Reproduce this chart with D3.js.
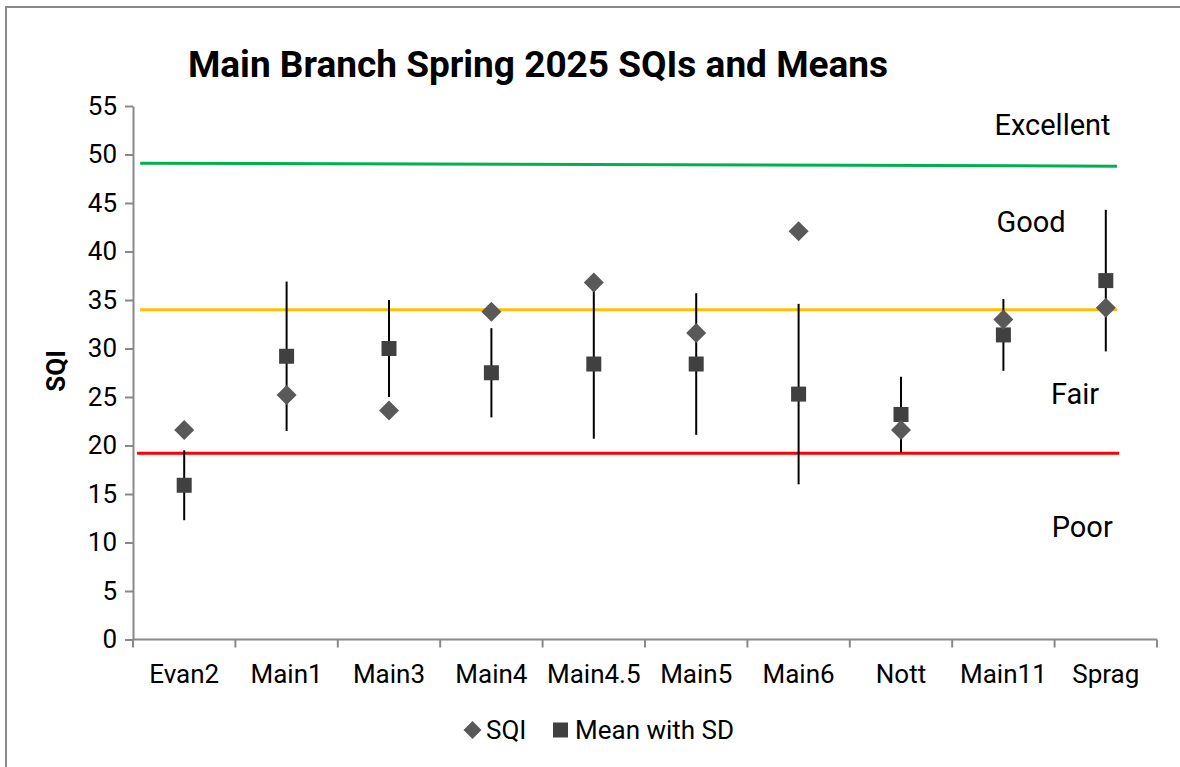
<!DOCTYPE html>
<html>
<head>
<meta charset="utf-8">
<script src="https://cdn.jsdelivr.net/npm/d3@7"></script>
<style>
  html, body { margin: 0; padding: 0; background: #fff; overflow: hidden; }
  svg { display: block; font-family: Roboto, "Liberation Sans", Arial, sans-serif; }
</style>
</head>
<body>
<svg id="chart" width="1180" height="767"></svg>
<script>
// ---------- data ----------
const categories = ["Evan2", "Main1", "Main3", "Main4", "Main4.5", "Main5", "Main6", "Nott", "Main11", "Sprag"];
const sqiValues  = [21.6, 25.2, 23.6, 33.8, 36.8, 31.6, 42.1, 21.6, 33.0, 34.2];
const meanValues = [15.9, 29.2, 30.0, 27.5, 28.4, 28.4, 25.3, 23.2, 31.4, 37.0];
const sdValues   = [3.6, 7.7, 5.0, 4.6, 7.7, 7.3, 9.3, 3.9, 3.7, 7.3];
const yTicks = [0, 5, 10, 15, 20, 25, 30, 35, 40, 45, 50, 55];
// threshold lines (x in category-index units, y in SQI units)
const thresholdNames = ["Excellent", "Fair", "Poor"];
const thresholdX0 = [0.07, 0.07, 0.04];
const thresholdX1 = [9.61, 9.61, 9.63];
const thresholdY0 = [49.1, 34.0, 19.2];
const thresholdY1 = [48.8, 34.0, 19.2];
const thresholdColors = ["#00B050", "#FFC000", "#FF0000"];
// rating labels
const ratingLabels = ["Excellent", "Good", "Fair", "Poor"];
const ratingX = [8.98, 8.77, 9.2, 9.27];
const ratingY = [52.0, 42.0, 24.3, 10.6];
const titleText = "Main Branch Spring 2025 SQIs and Means";
const yTitle = "SQI";
const legendLabels = ["SQI", "Mean with SD"];

(function () {
// ---------- layout ----------
const svg = d3.select("#chart");
const pLeft = 133, pRight = 1157, pTop = 106, pBottom = 639.5;

svg.append("path").attr("d", "M6,780V7H1190")
  .attr("fill", "none").attr("stroke", "#898989").attr("stroke-width", 2);

const x = d3.scaleBand().domain(categories).range([pLeft, pRight]).paddingInner(0).paddingOuter(0);
const xi = d3.scaleLinear().domain([0, categories.length]).range([pLeft, pRight]);
const y = d3.scaleLinear().domain([0, 55]).range([pBottom, pTop]);

// title
svg.append("text").attr("x", 538).attr("y", 77).attr("text-anchor", "middle")
  .attr("font-size", 37).attr("font-weight", "bold").attr("fill", "#000").text(titleText);

// y axis
const yAxis = d3.axisLeft(y).tickValues(yTicks).tickSize(8).tickSizeOuter(0).tickPadding(8);
const gy = svg.append("g").attr("transform", `translate(${pLeft},0)`).call(yAxis);
gy.select(".domain").attr("stroke", "#898989").attr("stroke-width", 2);
gy.selectAll(".tick line").attr("stroke", "#898989").attr("stroke-width", 2);
gy.selectAll(".tick text").attr("font-size", 26).attr("fill", "#000").attr("font-family", "Roboto");

// x axis with ticks at band boundaries
const gx = svg.append("g").attr("transform", `translate(0,${pBottom})`);
gx.append("line").attr("x1", pLeft).attr("x2", pRight).attr("y1", 0).attr("y2", 0)
  .attr("stroke", "#898989").attr("stroke-width", 2);
gx.selectAll("line.tk").data(d3.range(categories.length + 1)).join("line").attr("class", "tk")
  .attr("x1", d => xi(d)).attr("x2", d => xi(d)).attr("y1", 0).attr("y2", 8)
  .attr("stroke", "#898989").attr("stroke-width", 2);
gx.selectAll("text").data(categories).join("text")
  .attr("x", d => x(d) + x.bandwidth() / 2).attr("y", 43).attr("text-anchor", "middle")
  .attr("font-size", 26).attr("fill", "#000").text(d => d);

// y title
svg.append("text").attr("transform", `translate(65,371) rotate(-90)`).attr("text-anchor", "middle")
  .attr("font-size", 26).attr("font-weight", "bold").attr("fill", "#000").text(yTitle);

// threshold lines
svg.append("g").selectAll("line").data(thresholdNames).join("line")
  .attr("x1", (d, i) => xi(thresholdX0[i])).attr("x2", (d, i) => xi(thresholdX1[i]))
  .attr("y1", (d, i) => y(thresholdY0[i])).attr("y2", (d, i) => y(thresholdY1[i]))
  .attr("stroke", (d, i) => thresholdColors[i]).attr("stroke-width", 3);

// rating labels
svg.append("g").selectAll("text").data(ratingLabels).join("text")
  .attr("x", (d, i) => xi(ratingX[i])).attr("y", (d, i) => y(ratingY[i]))
  .attr("text-anchor", "middle").attr("font-size", 29).attr("fill", "#000").text(d => d);

const cx = d => x(d) + x.bandwidth() / 2;

// error bars
svg.append("g").selectAll("line").data(categories).join("line")
  .attr("x1", d => cx(d)).attr("x2", d => cx(d))
  .attr("y1", (d, i) => y(meanValues[i] + sdValues[i]))
  .attr("y2", (d, i) => y(meanValues[i] - sdValues[i]))
  .attr("stroke", "#000").attr("stroke-width", 2);

// mean squares
const sq = 15;
svg.append("g").selectAll("rect").data(categories).join("rect")
  .attr("x", d => cx(d) - sq / 2).attr("y", (d, i) => y(meanValues[i]) - sq / 2)
  .attr("width", sq).attr("height", sq).attr("fill", "#404040");

// SQI diamonds
const dsz = 10;
const diamond = `M0,${-dsz}L${dsz},0L0,${dsz}L${-dsz},0Z`;
svg.append("g").selectAll("path").data(categories).join("path")
  .attr("d", diamond)
  .attr("transform", (d, i) => `translate(${cx(d)},${y(sqiValues[i])})`)
  .attr("fill", "#595959");

// legend
const lg = svg.append("g");
lg.append("path").attr("d", `M0,-9L9,0L0,9L-9,0Z`).attr("transform", "translate(472.5,730)").attr("fill", "#595959");
lg.append("text").attr("x", 486).attr("y", 739).attr("font-size", 26).attr("fill", "#000").text(legendLabels[0]);
lg.append("rect").attr("x", 553).attr("y", 722.5).attr("width", 15).attr("height", 15).attr("fill", "#404040");
lg.append("text").attr("x", 575).attr("y", 739).attr("font-size", 26).attr("fill", "#000").text(legendLabels[1]);
})();
</script>
</body>
</html>
